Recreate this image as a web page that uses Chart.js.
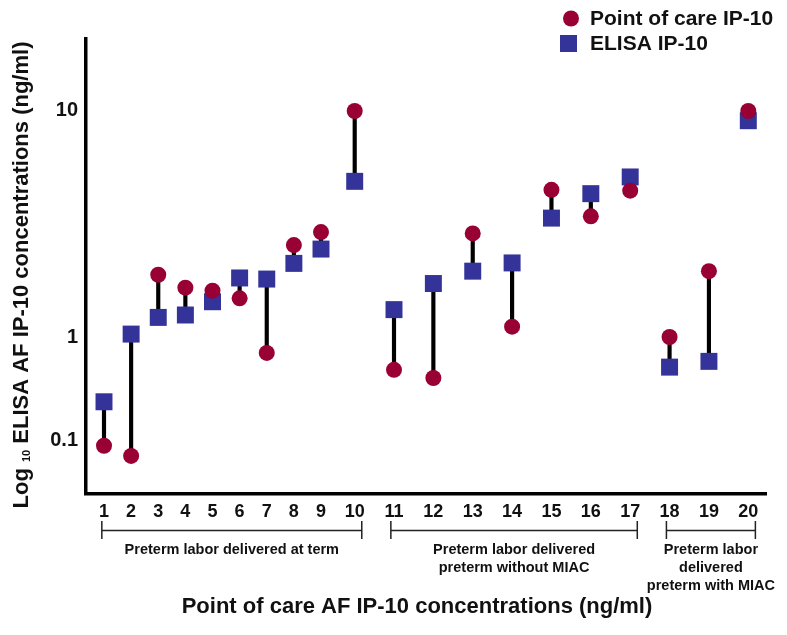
<!DOCTYPE html>
<html>
<head>
<meta charset="utf-8">
<title>Point of care vs ELISA IP-10</title>
<script src="https://cdn.jsdelivr.net/npm/chart.js@4.4.1/dist/chart.umd.min.js"></script>
<style>
  body { margin: 0; background: #fff; }
  canvas { display: block; }
</style>
</head>
<body>
<canvas id="chart" width="787" height="635"></canvas>
<script>
const patients = [1, 2, 3, 4, 5, 6, 7, 8, 9, 10, 11, 12, 13, 14, 15, 16, 17, 18, 19, 20];
const pocValues = [0.088, 0.070, 1.88, 1.65, 1.60, 1.48, 0.70, 2.54, 2.90, 9.9,
                   0.48, 0.40, 2.86, 1.11, 4.45, 3.40, 4.41, 1.0, 1.95, 9.9];
const elisaValues = [0.235, 1.03, 1.22, 1.25, 1.43, 1.82, 1.80, 2.11, 2.44, 4.85,
                     1.32, 1.72, 1.95, 2.12, 3.34, 4.28, 5.07, 0.51, 0.58, 8.97];
const yTicks = [0.1, 1, 10];
const groupNames = [
    ["Preterm labor delivered at term"],
    ["Preterm labor delivered", "preterm without MIAC"],
    ["Preterm labor", "delivered", "preterm with MIAC"]
];
const groupFirst = [1, 11, 18];
const groupLast = [10, 17, 20];

const pocColor = "#990033";
const elisaColor = "#333399";
const FONT = "'Liberation Sans', Arial, sans-serif";

// linear scale with a piecewise mapping (optionally on log10 of the value);
// stops are [value, position] pairs, range gives the positions at both axis ends
class WarpedScale extends Chart.LinearScale {
    warp(v) {
        const o = this.options;
        const t = o.logValues ? Math.log10(v) : v;
        const s = o.stops;
        let i = 0;
        while (i < s.length - 2 && t > s[i + 1][0]) i++;
        const a = s[i], b = s[i + 1];
        return a[1] + (t - a[0]) * (b[1] - a[1]) / (b[0] - a[0]);
    }
    unwarp(p) {
        const o = this.options;
        const s = o.stops;
        let i = 0;
        while (i < s.length - 2 && p > s[i + 1][1]) i++;
        const a = s[i], b = s[i + 1];
        const t = a[0] + (p - a[1]) * (b[0] - a[0]) / (b[1] - a[1]);
        return o.logValues ? Math.pow(10, t) : t;
    }
    buildTicks() {
        return this.options.tickValues.map(v => ({ value: v }));
    }
    getPixelForValue(v) {
        const [lo, hi] = this.options.range;
        return this.getPixelForDecimal((this.warp(v) - lo) / (hi - lo));
    }
    getValueForPixel(p) {
        const [lo, hi] = this.options.range;
        return this.unwarp(lo + this.getDecimalForPixel(p) * (hi - lo));
    }
}
WarpedScale.id = "warped";
WarpedScale.defaults = {};
Chart.register(WarpedScale);

const extras = {
    id: "extras",
    afterDraw(chart) {
        const ctx = chart.ctx;
        const xs = chart.scales.x;
        ctx.save();
        ctx.fillStyle = "#111";
        ctx.strokeStyle = "#222";

        // group brackets and names
        ctx.lineWidth = 1.5;
        ctx.font = "bold 14.5px " + FONT;
        ctx.textAlign = "center";
        ctx.textBaseline = "middle";
        groupNames.forEach((lines, g) => {
            const x1 = xs.getPixelForValue(groupFirst[g] - 0.08);
            const x2 = xs.getPixelForValue(groupLast[g] + 0.18);
            ctx.beginPath();
            ctx.moveTo(x1, 521); ctx.lineTo(x1, 539);
            ctx.moveTo(x2, 521); ctx.lineTo(x2, 539);
            ctx.moveTo(x1, 530.5); ctx.lineTo(x2, 530.5);
            ctx.stroke();
            lines.forEach((t, k) => ctx.fillText(t, (x1 + x2) / 2, 550 + k * 18));
        });

        // x title
        ctx.font = "bold 22px " + FONT;
        ctx.fillText("Point of care AF IP-10 concentrations (ng/ml)", 417, 607);

        // y title with subscript
        ctx.translate(22, 275);
        ctx.rotate(-Math.PI / 2);
        const big = "bold 22px " + FONT, small = "bold 11px " + FONT;
        const p1 = "Log ", p2 = "10", p3 = " ELISA AF IP-10 concentrations (ng/ml)";
        ctx.font = big;
        const w1 = ctx.measureText(p1).width, w3 = ctx.measureText(p3).width;
        ctx.font = small;
        const w2 = ctx.measureText(p2).width;
        let x = -(w1 + w2 + w3) / 2;
        ctx.textAlign = "left";
        ctx.font = big;
        ctx.fillText(p1, x, 0);
        ctx.font = small;
        ctx.fillText(p2, x + w1, 5);
        ctx.font = big;
        ctx.fillText(p3, x + w1 + w2, 0);
        ctx.setTransform(1, 0, 0, 1, 0, 0);

        // legend
        ctx.fillStyle = pocColor;
        ctx.beginPath();
        ctx.arc(571, 18.5, 8, 0, Math.PI * 2);
        ctx.fill();
        ctx.fillStyle = elisaColor;
        ctx.fillRect(560, 35, 17, 17);
        ctx.fillStyle = "#111";
        ctx.font = "bold 21px " + FONT;
        ctx.fillText("Point of care IP-10", 590, 19);
        ctx.fillText("ELISA IP-10", 590, 44);
        ctx.restore();
    }
};

const tickFont = { family: FONT, weight: "bold", size: 18 };

new Chart(document.getElementById("chart"), {
    type: "scatter",
    data: {
        datasets: [
            {
                label: "Point of care IP-10",
                data: patients.map((p, i) => ({ x: p, y: pocValues[i] })),
                pointStyle: "circle",
                pointRadius: 8,
                pointBackgroundColor: pocColor,
                pointBorderWidth: 0,
                order: 0
            },
            {
                label: "ELISA IP-10",
                data: patients.map((p, i) => ({ x: p, y: elisaValues[i] })),
                pointStyle: "rect",
                pointRadius: 12,
                pointBackgroundColor: elisaColor,
                pointBorderWidth: 0,
                order: 1
            },
            {
                type: "bar",
                label: "range",
                data: patients.map((p, i) => ({ x: p, y: [pocValues[i], elisaValues[i]] })),
                backgroundColor: "#000",
                barThickness: 3.5,
                borderWidth: 0,
                order: 2
            }
        ]
    },
    options: {
        responsive: false,
        animation: false,
        layout: { padding: { left: 0, top: 39, right: 21, bottom: 0 } },
        plugins: { legend: { display: false }, tooltip: { enabled: false } },
        scales: {
            x: {
                type: "warped",
                offset: false,
                min: 0,
                max: 21,
                range: [86, 766],
                stops: [[1, 104], [9, 321], [10, 354.7], [11, 394], [20, 748.3]],
                tickValues: patients,
                grid: { display: false, drawTicks: false, offset: false },
                border: { display: true, color: "#000", width: 3.5 },
                ticks: {
                    autoSkip: false, maxRotation: 0, padding: 7, color: "#111",
                    font: tickFont, callback: v => String(v)
                },
                afterFit: s => { s.height = 141; }
            },
            y: {
                type: "warped",
                logValues: true,
                min: 0.01,
                max: 100,
                range: [0, 455],
                stops: [[-2, -49], [-1, 54], [0, 157], [1, 384], [2, 611]],
                tickValues: yTicks,
                grid: { display: false, drawTicks: false },
                border: { display: true, color: "#000", width: 3.5 },
                ticks: {
                    padding: 8, color: "#111",
                    font: { family: FONT, weight: "bold", size: 20 },
                    callback: v => String(v)
                },
                afterFit: s => { s.width = 86; }
            }
        }
    },
    plugins: [extras]
});
</script>
</body>
</html>
